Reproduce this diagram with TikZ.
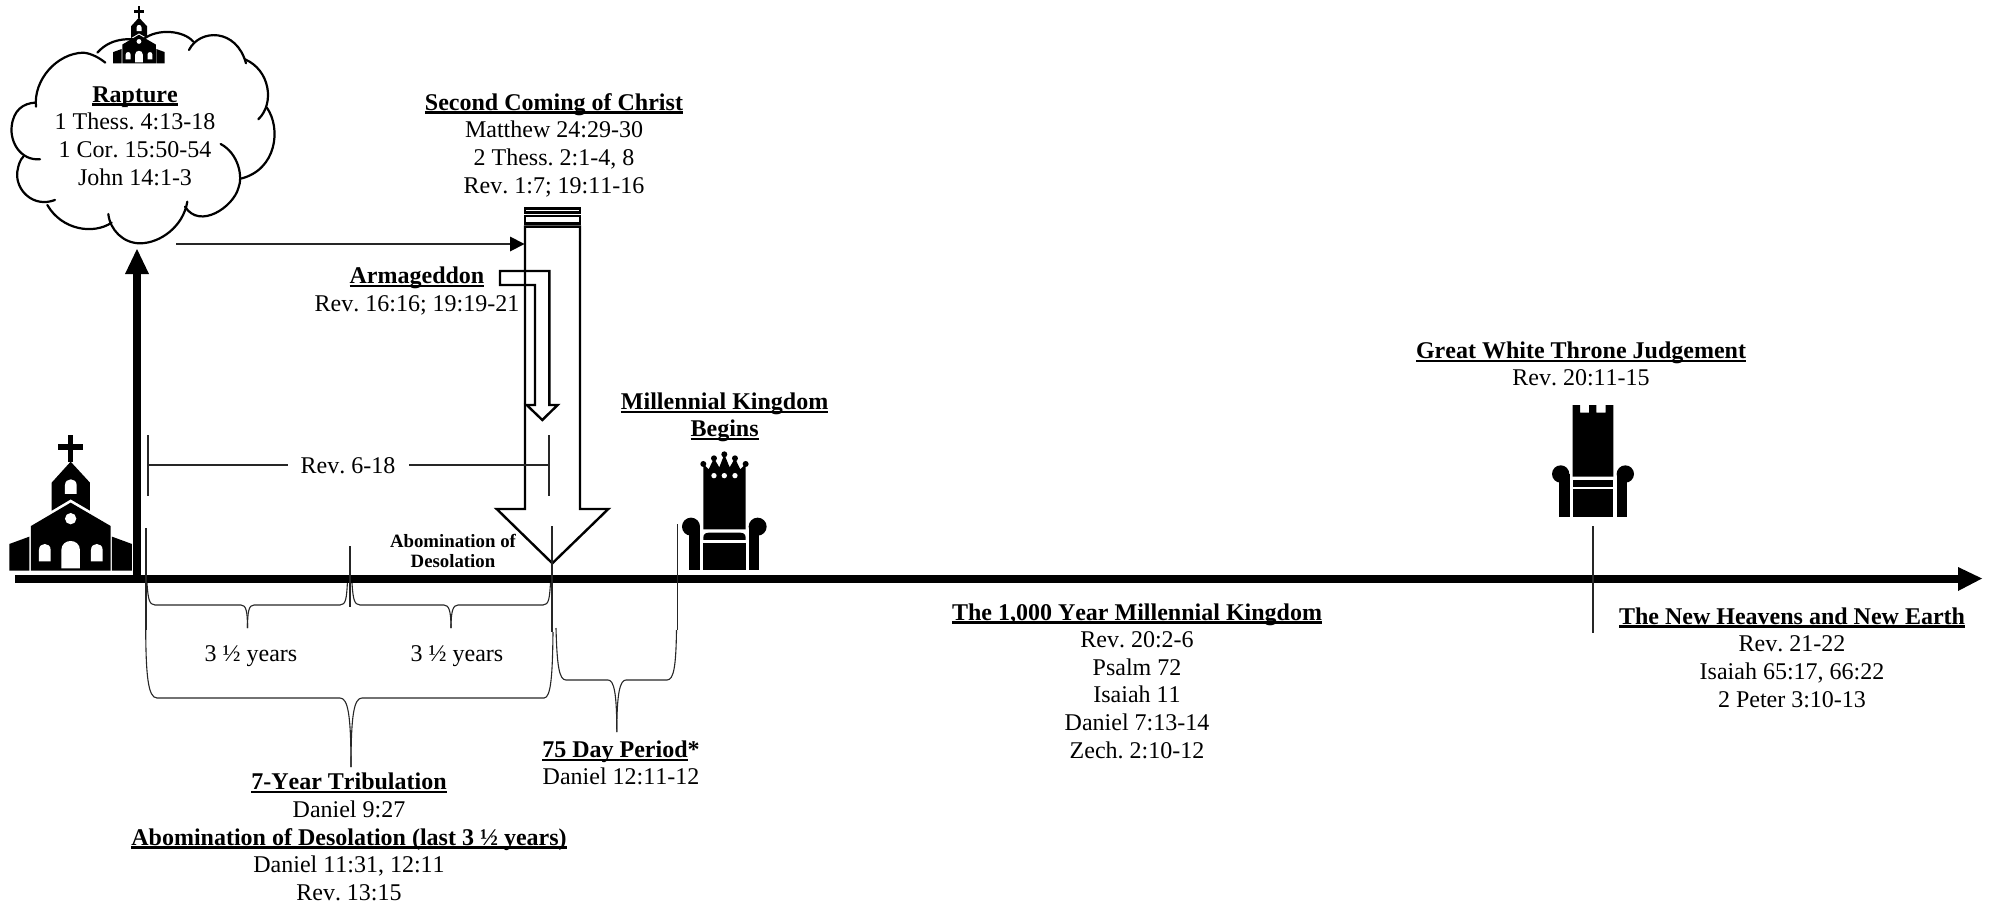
\documentclass[tikz,border=0pt]{standalone}
\usepackage{fontspec}
\setmainfont[Kerning=Off]{Liberation Serif}
\frenchspacing
\newcommand\ttl[1]{\setbox0\hbox{\bfseries #1}\leavevmode\rlap{\rule[-3.4pt]{\wd0}{2.2pt}}\box0 }
\newcommand\archfill[4]{% x1 x2 top bottom
  \fill[white] (#1,#4) -- (#1,{#3+(#2-#1)/2}) .. controls (#1,{#3-(#2-#1)/6}) and (#2,{#3-(#2-#1)/6}) .. (#2,{#3+(#2-#1)/2}) -- (#2,#4) -- cycle;}
\newcommand\churchshape{%
  \fill (205,45) rectangle (219,125);
  \fill (175,72) rectangle (250,90);
  \fill (155,188) -- (212,125) -- (270,188) -- (270,272) -- (212,238) -- (155,272) -- cycle;
  \archfill{195}{230}{178}{222}
  \fill (93,318) -- (212,248) -- (332,318) -- (332,452) -- (93,452) -- cycle;
  \fill[white] (212,296) circle (17);
  \archfill{184}{240}{363}{445}
  \archfill{117}{152}{372}{424}
  \archfill{273}{308}{372}{424}
  \fill (28,372) -- (88,350) -- (88,452) -- (28,452) -- cycle;
  \fill (336,350) -- (396,372) -- (396,452) -- (336,452) -- cycle;
}
\tikzset{
  txt/.style={inner sep=0pt,align=center,font=\fontsize{24}{27.6}\selectfont},
  smalltxt/.style={inner sep=0pt,align=center,font=\fontsize{18.8}{20.5}\selectfont\bfseries},
  thin line/.style={line width=1.1pt,draw=black!85},
  outl/.style={line width=2.4pt,draw=black,miter limit=10},
  brace/.style={line width=1.1pt,draw=black!85},
}
\begin{document}
\begin{tikzpicture}[x=1pt,y=-1pt]
\useasboundingbox (0,0) rectangle (1990,905);
% main axis
\coordinate (axL) at (15,578.5);
\coordinate (axR) at (1960,578.5);
\draw[line width=8pt] (axL) -- (axR);
\fill (1958,567) -- (1982,578.5) -- (1958,591) -- cycle;
% rapture vertical arrow
\coordinate (upB) at (137,578.5);
\coordinate (upT) at (137,270);
\draw[line width=8pt] (upB) -- (upT);
\fill (137,249) -- (149,274) -- (125,274) -- cycle;
% churches
\begin{scope}[shift={(0,420)},x=0.3333pt,y=-0.3333pt]\churchshape\end{scope}
% cloud
\begin{scope}[shift={(0,0)},x=0.3333pt,y=-0.3333pt,line width=2.2pt,line cap=round]
\draw (108,320) .. controls (100,240) and (170,160) .. (250,158) .. controls (275,160) and (300,175) .. (316,188);
\draw (292,158) .. controls (340,105) and (400,120) .. (430,118) .. controls (470,85) and (550,90) .. (580,125);
\draw (567,150) .. controls (600,85) and (710,85) .. (738,190);
\draw (735,178) .. controls (810,210) and (825,310) .. (775,358);
\draw (800,322) .. controls (845,385) and (830,510) .. (722,536);
\draw (662,432) .. controls (715,460) and (730,530) .. (715,565) .. controls (700,620) and (600,690) .. (555,620);
\draw (562,605) .. controls (550,680) and (480,730) .. (420,730) .. controls (370,730) and (330,690) .. (325,642);
\draw (335,668) .. controls (280,705) and (185,690) .. (142,615);
\draw (165,600) .. controls (100,625) and (45,570) .. (52,515) .. controls (55,495) and (60,480) .. (70,470);
\draw (120,478) .. controls (60,482) and (30,425) .. (35,380) .. controls (40,330) and (70,310) .. (105,308);
\end{scope}
\begin{scope}[shift={(109.3,0)},x=0.14pt,y=-0.14pt]\churchshape\end{scope}
% rapture horizontal arrow
\coordinate (rhA) at (176,244);
\coordinate (rhB) at (511,244);
\draw[thin line] (rhA) -- (rhB);
\fill (524.5,244) -- (510,236.5) -- (510,251.5) -- cycle;
% second coming arrow
\begin{scope}[shift={(480,190)},x=0.3333pt,y=-0.3333pt]
\draw[outl] (135,55) rectangle (300,67);
\draw[outl] (135,78) rectangle (300,100);
\draw[outl] (135,110) -- (300,110) -- (300,957) -- (385,957) -- (217,1120) -- (50,957) -- (135,957) -- cycle;
\draw[outl] (60,243) -- (208,243) -- (208,645) -- (233,645) -- (187,690) -- (140,645) -- (165,645) -- (165,285) -- (60,285) -- cycle;
\end{scope}
% Rev 6-18
\node[txt] (rev618) at (348,466) {Rev. 6-18};
\coordinate (rL) at (148,465);
\coordinate (rR) at (549,465);
\draw[thin line] (148,435) -- (148,496);
\draw[thin line] (549,435) -- (549,496);
\draw[thin line] (rL) -- (288,465);
\draw[thin line] (409,465) -- (rR);
% throne 1
\begin{scope}[shift={(480,190)},x=0.3333pt,y=-0.3333pt]
\fill (670,1018) -- (670,822) -- (686,838) -- (702,805) -- (718,832) -- (733,793) -- (749,832) -- (765,805) -- (781,838) -- (797,822) -- (797,1018) -- cycle;
\foreach \a/\b in {670/822,702/805,733/793,765/805,797/822} \fill (\a,\b) circle (9);
\foreach \a in {702,733,765} \fill[white] (\a,857) circle (8);
\fill (633,1010) circle (27);
\fill (833,1010) circle (27);
\fill (628,1010) rectangle (660,1140);
\fill (807,1010) rectangle (838,1140);
\fill (670,1050) -- (670,1042) .. controls (670,1030) and (680,1028) .. (690,1028) -- (777,1028) .. controls (787,1028) and (797,1030) .. (797,1042) -- (797,1050) -- cycle;
\fill (670,1058) rectangle (797,1140);
\end{scope}
% throne 2
\begin{scope}[shift={(1520,390)},x=0.3333pt,y=-0.3333pt]
\fill (158,260) -- (158,45) -- (180,45) -- (180,68) -- (207,68) -- (207,45) -- (229,45) -- (229,68) -- (257,68) -- (257,45) -- (280,45) -- (280,260) -- cycle;
\fill (122,252) circle (26);
\fill (316,252) circle (26);
\fill (118,252) rectangle (150,380);
\fill (290,252) rectangle (320,380);
\fill (158,270) rectangle (280,290);
\fill (158,298) rectangle (280,380);
\end{scope}
% tick lines
\draw[thin line] (146,528) -- (146,630);
\draw[thin line] (350,546) -- (350,607);
\draw[thin line] (552,526) -- (552,632);
\draw[thin line] (677.6,524) -- (677.6,630);
\draw[thin line] (1593,526) -- (1593,633);
% braces
\draw[brace] (147,583) .. controls (148,598) and (149,605) .. (155,605) -- (241,605) .. controls (246,605) and (247.5,611) .. (247.5,628);
\draw[brace] (347.4,583) .. controls (346.5,598) and (346,605) .. (340,605) -- (254,605) .. controls (249,605) and (247.5,611) .. (247.5,628);
\draw[brace] (352,583) .. controls (353,598) and (354,605) .. (360,605) -- (444,605) .. controls (449,605) and (451,611) .. (451,628);
\draw[brace] (550.5,583) .. controls (549.5,598) and (549,605) .. (543,605) -- (458,605) .. controls (453,605) and (451,611) .. (451,628);
\draw[brace] (145.7,630) .. controls (146,675) and (148,698) .. (157,698) -- (340,698) .. controls (348,698) and (351,715) .. (351,767);
\draw[brace] (553,632) .. controls (552.5,675) and (551,698) .. (544,698) -- (362,698) .. controls (354,698) and (351,715) .. (351,767);
\draw[brace] (556,628) .. controls (557,665) and (559,680) .. (566,680) -- (608,680) .. controls (614,680) and (616.8,693) .. (616.8,732);
\draw[brace] (676.5,630) .. controls (676,665) and (674,680) .. (667,680) -- (626,680) .. controls (620,680) and (616.8,693) .. (616.8,732);
% text
\node[txt] (rapture) at (135,136) {\ttl{Rapture}\\1 Thess. 4:13-18\\1 Cor. 15:50-54\\John 14:1-3};
\node[txt] (second) at (554,145) {\ttl{Second Coming of Christ}\\Matthew 24:29-30\\2 Thess. 2:1-4, 8\\Rev. 1:7; 19:11-16};
\node[txt] (armag) at (417,291) {\ttl{Armageddon}\\Rev. 16:16; 19:19-21};
\node[smalltxt] (abom) at (453,551) {Abomination of\\Desolation};
\node[txt] (y1) at (251,656) {3 ½ years};
\node[txt] (y2) at (457,656) {3 ½ years};
\node[txt] (mill) at (724.6,417.5) {\ttl{Millennial Kingdom}\\\ttl{Begins}};
\node[txt] (gwt) at (1581,364) {\ttl{Great White Throne Judgement}\\Rev. 20:11-15};
\node[txt] (k1000) at (1137,681) {\ttl{The 1,000 Year Millennial Kingdom}\\Rev. 20:2-6\\Psalm 72\\Isaiah 11\\Daniel 7:13-14\\Zech. 2:10-12};
\node[txt] (nh) at (1792,657.5) {\ttl{The New Heavens and New Earth}\\Rev. 21-22\\Isaiah 65:17, 66:22\\2 Peter 3:10-13};
\node[txt] (d75) at (621,763) {\ttl{75 Day Period}\textbf{*}\\Daniel 12:11-12};
\node[txt] (trib) at (349,837) {\ttl{7-Year Tribulation}\\Daniel 9:27\\\ttl{Abomination of Desolation (last 3 ½ years)}\\Daniel 11:31, 12:11\\Rev. 13:15};
\end{tikzpicture}
\end{document}
